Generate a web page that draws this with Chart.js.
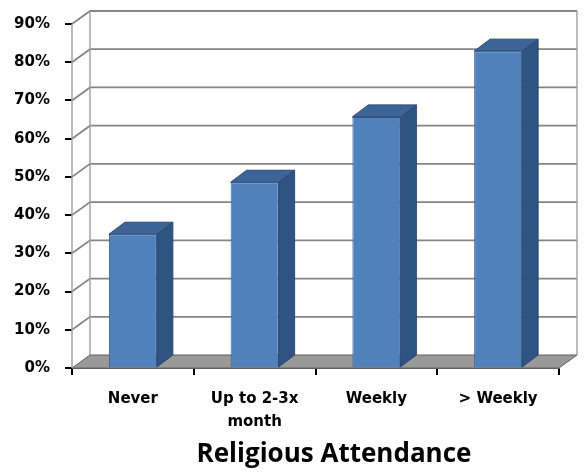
<!DOCTYPE html>
<html>
<head>
<meta charset="utf-8">
<script src="https://cdn.jsdelivr.net/npm/chart.js@4.4.1/dist/chart.umd.min.js"></script>
<style>
    html, body { margin: 0; padding: 0; background: #fff; }
    #wrap { width: 586px; height: 472px; position: relative; }
</style>
</head>
<body>
<div id="wrap"><canvas id="attendanceChart" width="586" height="472"></canvas></div>
<script>
// Chart data
const categories = ['Never', ['Up to 2-3x', 'month'], 'Weekly', '> Weekly'];
const percentValues = [35, 48.6, 65.7, 82.9];
const yTickValues = [0, 10, 20, 30, 40, 50, 60, 70, 80, 90];
const axisTitle = 'Religious Attendance';

// 3D look
const depthX = 18, depthY = 13;     // walls / floor
const barDepthX = 16, barDepthY = 12;
const gridColor = '#858585';

const wallsPlugin = {
    id: 'walls3d',
    beforeDatasetsDraw(chart) {
        const { ctx, chartArea: a, scales: { y } } = chart;
        ctx.save();
        // back wall
        ctx.fillStyle = '#ffffff';
        ctx.fillRect(a.left + depthX, a.top - depthY, a.right - a.left, a.bottom - a.top);
        // floor
        ctx.beginPath();
        ctx.moveTo(a.left, a.bottom);
        ctx.lineTo(a.right, a.bottom);
        ctx.lineTo(a.right + depthX, a.bottom - depthY);
        ctx.lineTo(a.left + depthX, a.bottom - depthY);
        ctx.closePath();
        ctx.fillStyle = '#999999';
        ctx.fill();
        ctx.strokeStyle = '#606060';
        ctx.lineWidth = 1;
        ctx.stroke();

        ctx.strokeStyle = gridColor;
        ctx.lineWidth = 1.8;
        yTickValues.forEach(v => {
            if (v === 0) return;
            const py = y.getPixelForValue(v);
            ctx.beginPath();
            ctx.moveTo(a.left, py);
            ctx.lineTo(a.left + depthX, py - depthY);
            ctx.lineTo(a.right + depthX, py - depthY);
            ctx.stroke();
        });
        // wall edges
        ctx.lineWidth = 1.4;
        ctx.strokeStyle = '#a0a0a0';
        ctx.beginPath();
        ctx.moveTo(a.left, a.bottom);
        ctx.lineTo(a.left, a.top);
        ctx.moveTo(a.left + depthX, a.bottom - depthY);
        ctx.lineTo(a.left + depthX, a.top - depthY);
        ctx.moveTo(a.right + depthX, a.bottom - depthY);
        ctx.lineTo(a.right + depthX, a.top - depthY);
        ctx.stroke();
        ctx.restore();
    },
    afterDatasetsDraw(chart) {
        const { ctx } = chart;
        const meta = chart.getDatasetMeta(0);
        ctx.save();
        ctx.lineWidth = 1;
        ctx.strokeStyle = '#2b4a72';
        meta.data.forEach(bar => {
            const { x, y, base, width } = bar.getProps(['x', 'y', 'base', 'width'], true);
            const l = x - width / 2, r = x + width / 2;
            // side face
            ctx.beginPath();
            ctx.moveTo(r, y);
            ctx.lineTo(r + barDepthX, y - barDepthY);
            ctx.lineTo(r + barDepthX, base - barDepthY);
            ctx.lineTo(r, base);
            ctx.closePath();
            ctx.fillStyle = '#2f5382';
            ctx.fill();
            ctx.stroke();
            // top face
            ctx.beginPath();
            ctx.moveTo(l, y);
            ctx.lineTo(l + barDepthX, y - barDepthY);
            ctx.lineTo(r + barDepthX, y - barDepthY);
            ctx.lineTo(r, y);
            ctx.closePath();
            ctx.fillStyle = '#3c6497';
            ctx.fill();
            ctx.stroke();
        });
        ctx.restore();
    },
    afterDraw(chart) {
        const { ctx } = chart;
        ctx.save();
        ctx.fillStyle = '#000';
        ctx.font = 'bold 26px "Open Sans"';
        ctx.textAlign = 'center';
        ctx.textBaseline = 'alphabetic';
        ctx.fillText(axisTitle, 334, 462);
        ctx.restore();
    }
};

document.addEventListener('DOMContentLoaded', () => {
    const ctx = document.getElementById('attendanceChart');
    new Chart(ctx, {
        type: 'bar',
        data: {
            labels: categories,
            datasets: [{
                data: percentValues,
                backgroundColor: '#4f81bd',
                borderColor: '#3a6090',
                borderWidth: 1,
                categoryPercentage: 1,
                barPercentage: 0.394
            }]
        },
        plugins: [wallsPlugin],
        options: {
            responsive: false,
            animation: false,
            layout: {
                padding: { top: 18, right: 27, bottom: 0, left: 0 }
            },
            plugins: {
                legend: { display: false },
                tooltip: { enabled: false }
            },
            scales: {
                y: {
                    min: 0,
                    max: 90,
                    afterFit: scale => { scale.width = 72; },
                    afterBuildTicks: scale => {
                        scale.ticks = yTickValues.map(v => ({ value: v }));
                    },
                    grid: {
                        drawOnChartArea: false,
                        drawTicks: true,
                        tickLength: 7,
                        color: '#000',
                        lineWidth: 2
                    },
                    border: { display: false },
                    ticks: {
                        padding: 15,
                        color: '#000',
                        font: { family: 'DejaVu Sans', weight: 'bold', size: 15 },
                        callback: value => value + '%'
                    }
                },
                x: {
                    afterFit: scale => { scale.height = 104; },
                    grid: {
                        drawOnChartArea: false,
                        drawTicks: true,
                        tickLength: 7,
                        color: '#000',
                        lineWidth: 2
                    },
                    border: { display: true, color: '#606060', width: 1 },
                    ticks: {
                        padding: 13,
                        color: '#000',
                        maxRotation: 0,
                        font: { family: 'DejaVu Sans', weight: 'bold', size: 15, lineHeight: 1.5 }
                    }
                }
            }
        }
    });
});
</script>
</body>
</html>
